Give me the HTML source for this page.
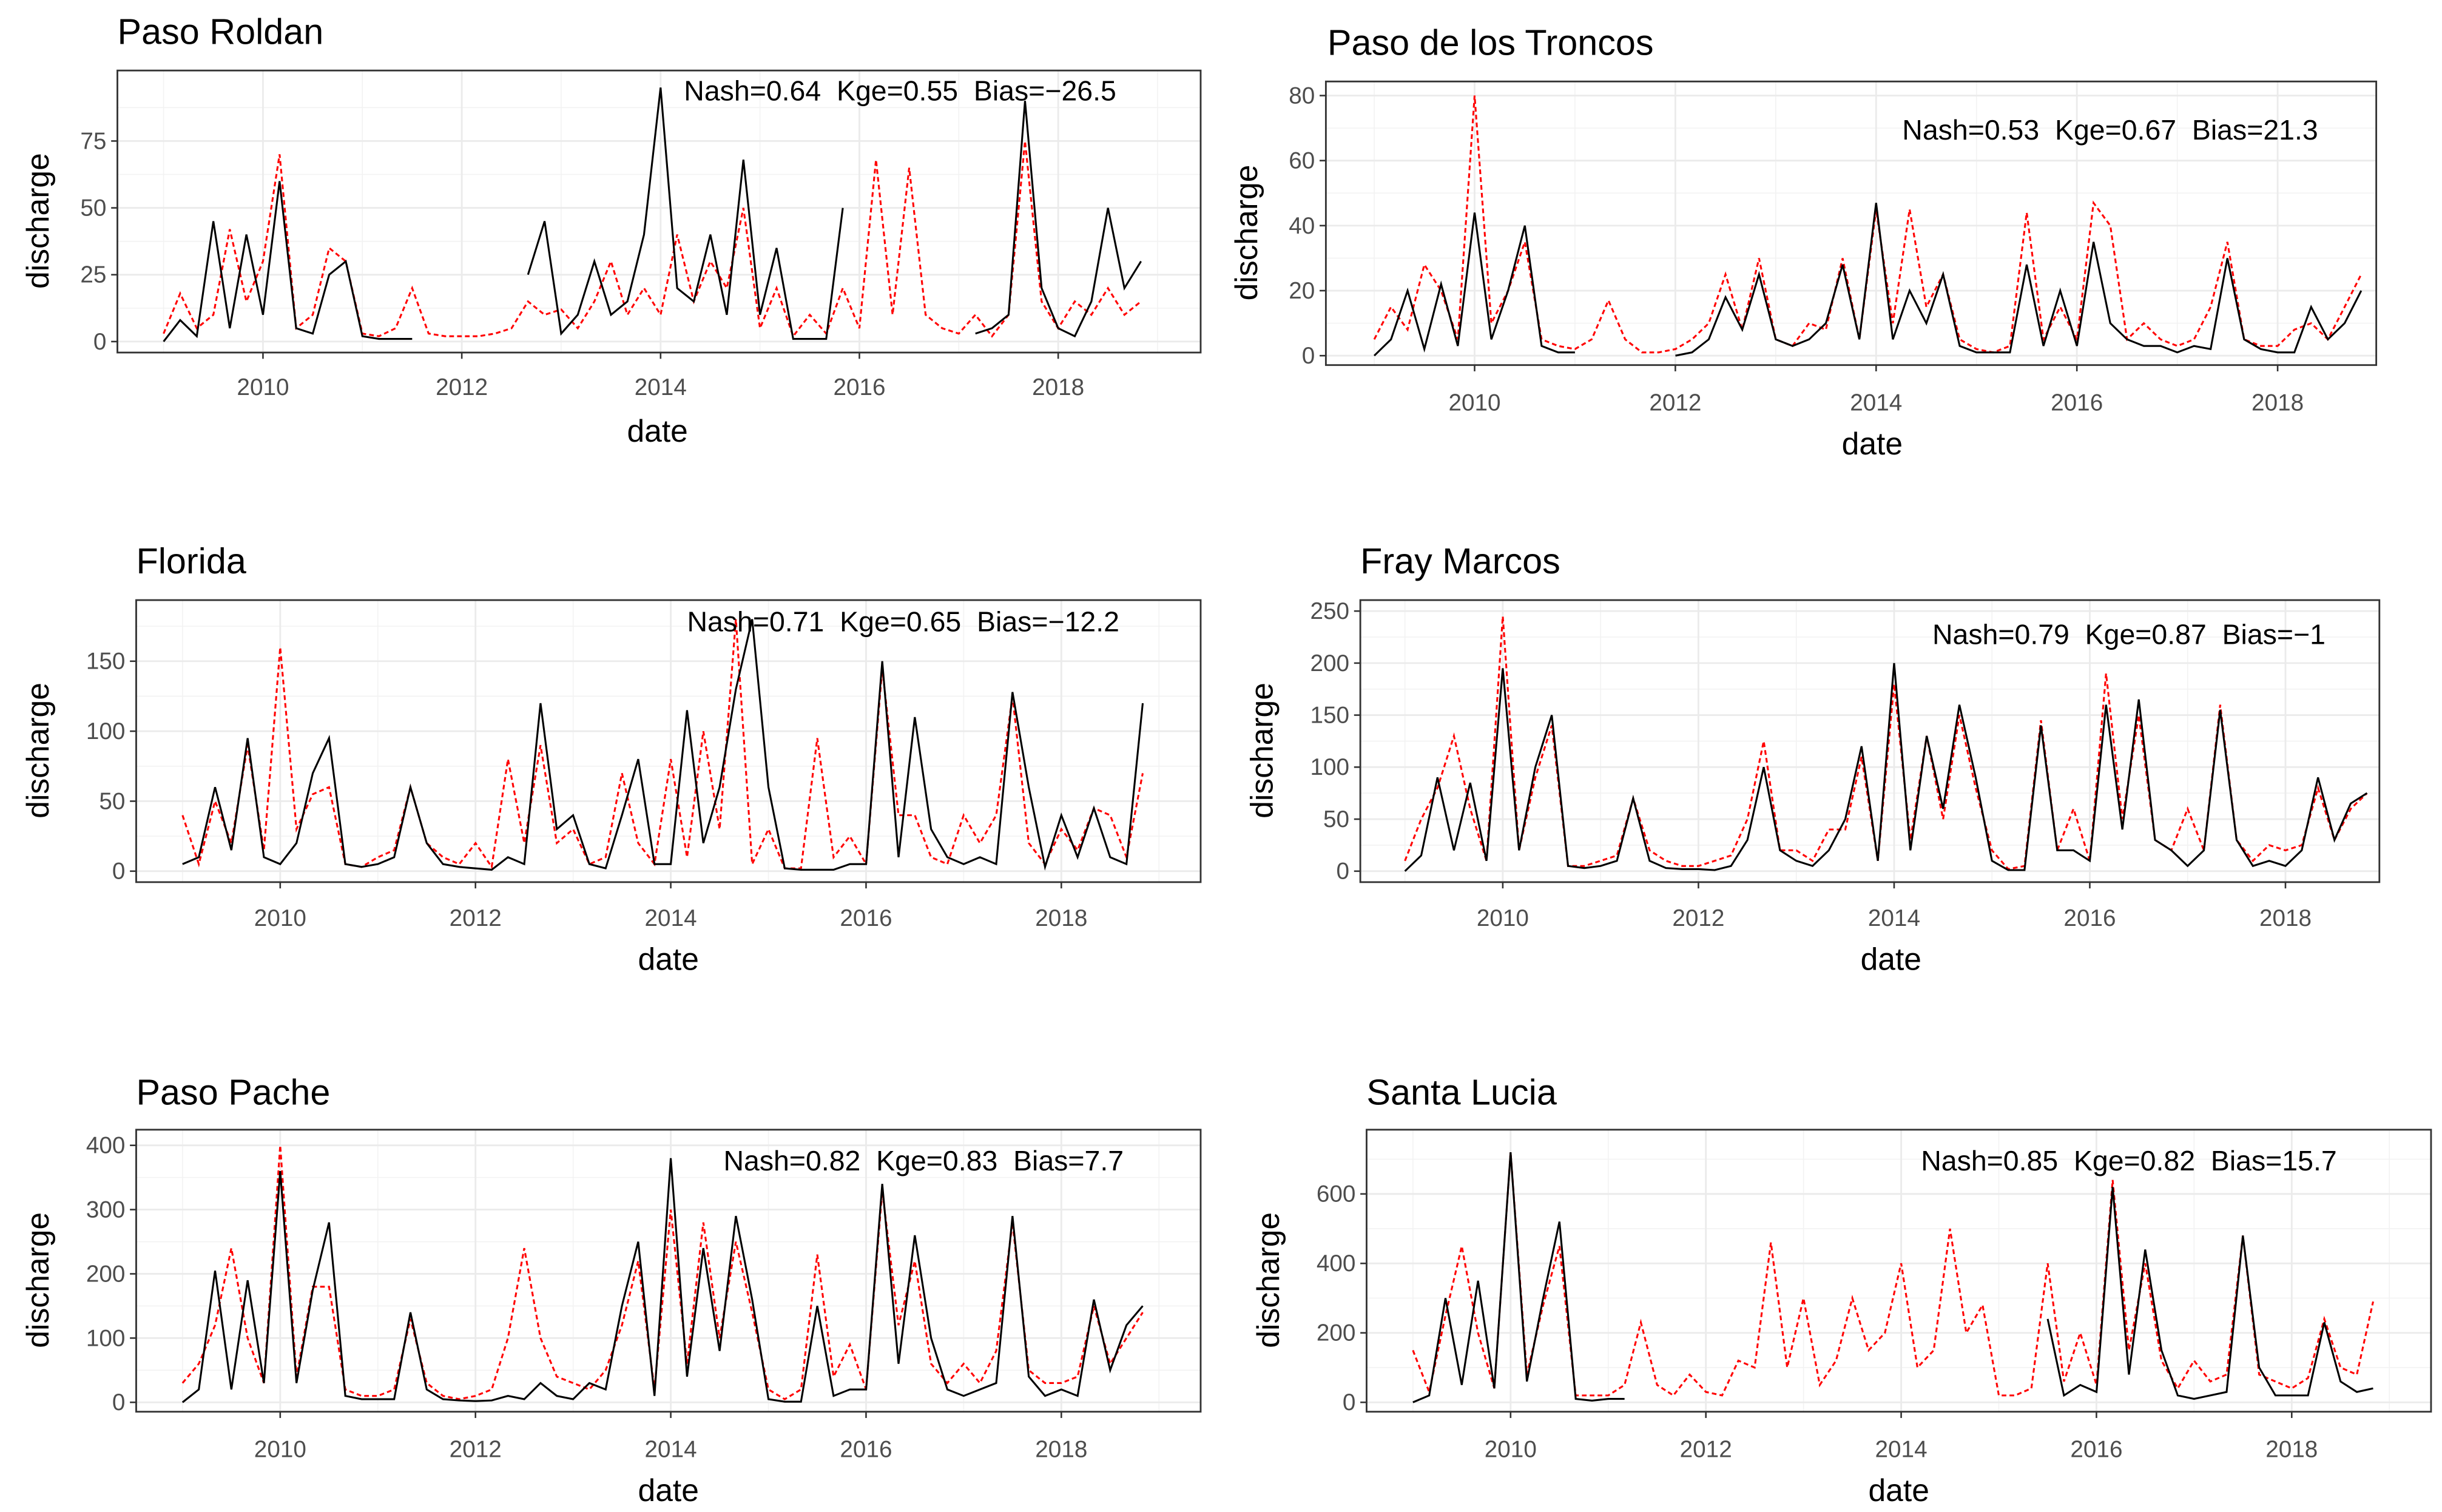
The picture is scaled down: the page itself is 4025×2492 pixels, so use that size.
<!DOCTYPE html>
<html><head><meta charset="utf-8"><style>
html,body{margin:0;padding:0;background:#fff}
svg{display:block}
text{font-family:"Liberation Sans",Arial,sans-serif}
.pre{white-space:pre}
</style></head><body>
<svg id="chart" width="4025" height="2492" viewBox="0 0 1560 965" preserveAspectRatio="none" xmlns="http://www.w3.org/2000/svg"></svg>
<script>
// Each series: every 2 months starting 2009.0 (6 values per year, 2009-2018)
const titles = ["Paso Roldan","Paso de los Troncos","Florida","Fray Marcos","Paso Pache","Santa Lucia"];
const stats = ["Nash=0.64  Kge=0.55  Bias=\u221226.5","Nash=0.53  Kge=0.67  Bias=21.3","Nash=0.71  Kge=0.65  Bias=\u221212.2","Nash=0.79  Kge=0.87  Bias=\u22121","Nash=0.82  Kge=0.83  Bias=7.7","Nash=0.85  Kge=0.82  Bias=15.7"];
const yTicks = [[0,25,50,75],[0,20,40,60,80],[0,50,100,150],[0,50,100,150,200,250],[0,100,200,300,400],[0,200,400,600]];
const xTicks = [2010,2012,2014,2016,2018];
const N = null;
const obs1 = [0,8,2,45,5,40, 10,60,5,3,25,30, 2,1,1,1,N,N, N,N,N,N,25,45, 3,10,30,10,15,40, 95,20,15,40,10,68, 10,35,1,1,1,50, N,N,N,N,N,N, N,3,5,10,90,20, 5,2,15,50,20,30];
const sim1 = [3,18,5,10,42,15, 30,70,5,10,35,30, 3,2,5,20,3,2, 2,2,3,5,15,10, 12,5,15,30,10,20, 10,40,15,30,20,50, 5,20,2,10,3,20, 5,68,10,65,10,5, 3,10,2,10,75,15, 5,15,10,20,10,15];
const obs2 = [0,5,20,2,22,3, 44,5,20,40,3,1, 1,N,N,N,N,N, 0,1,5,18,8,25, 5,3,5,10,28,5, 47,5,20,10,25,3, 1,1,1,28,3,20, 3,35,10,5,3,3, 1,3,2,30,5,2, 1,1,15,5,10,20];
const sim2 = [5,15,8,28,20,5, 80,10,20,35,5,3, 2,5,17,5,1,1, 2,5,10,25,8,30, 5,3,10,8,30,5, 45,10,45,15,25,5, 2,1,3,44,5,15, 5,47,40,5,10,5, 3,5,15,35,5,3, 3,8,10,5,15,25];
const obs3 = [5,10,60,15,95,10, 5,20,70,95,5,3, 5,10,60,20,5,3, 2,1,10,5,120,30, 40,5,2,40,80,5, 5,115,20,60,130,180, 60,2,1,1,1,5, 5,150,10,110,30,10, 5,10,5,128,60,3, 40,10,45,10,5,120];
const sim3 = [40,5,50,20,90,15, 160,30,55,60,5,3, 10,15,60,20,10,5, 20,3,80,20,90,20, 30,5,10,70,20,5, 80,10,100,30,180,5, 30,2,2,95,10,25, 5,145,40,40,10,5, 40,20,40,125,20,5, 30,15,45,40,10,70];
const obs4 = [0,15,90,20,85,10, 195,20,100,150,5,3, 5,10,70,10,3,2, 2,1,5,30,100,20, 10,5,20,50,120,10, 200,20,130,60,160,90, 10,1,1,140,20,20, 10,160,40,165,30,20, 5,20,155,30,5,10, 5,20,90,30,65,75];
const sim4 = [10,50,80,130,60,10, 245,20,90,140,5,5, 10,15,70,20,10,5, 5,10,15,50,125,20, 20,10,40,40,110,10, 180,30,130,50,150,80, 20,2,5,145,20,60, 10,190,50,150,30,20, 60,20,160,30,10,25, 20,25,80,30,60,75];
const obs5 = [0,20,205,20,190,30, 360,30,175,280,10,5, 5,5,140,20,5,3, 2,3,10,5,30,10, 5,30,20,150,250,10, 380,40,240,80,290,160, 5,1,1,150,10,20, 20,340,60,260,100,20, 10,20,30,290,40,10, 20,10,160,50,120,150];
const sim5 = [30,60,120,240,100,30, 400,40,180,180,20,10, 10,20,130,30,10,5, 10,20,100,240,100,40, 30,20,50,120,220,20, 300,60,280,100,250,140, 20,5,20,230,40,90, 20,330,120,220,60,30, 60,30,80,280,50,30, 30,40,150,60,100,140];
const obs6 = [0,20,300,50,350,40, 720,60,300,520,10,5, 10,10,N,N,N,N, N,N,N,N,N,N, N,N,N,N,N,N, N,N,N,N,N,N, N,N,N,240,20,50, 30,620,80,440,150,20, 10,20,30,480,100,20, 20,20,230,60,30,40];
const sim6 = [150,30,250,450,200,40, 720,80,280,450,20,20, 20,50,230,50,20,80, 30,20,120,100,460,100, 300,50,120,300,150,200, 400,100,150,500,200,280, 20,20,40,400,60,200, 50,640,150,400,120,40, 120,60,80,480,80,60, 40,70,240,100,80,290];
const observed = [obs1,obs2,obs3,obs4,obs5,obs6];
const simulated = [sim1,sim2,sim3,sim4,sim5,sim6];

// layout (not data)
const L = [
 {x0:75,x1:767,y0:45,y1:225,xa:168,xb:676,yz:218,tv:75,ty:90,tx:75,tyy:28,ax:575,ay:64,dx:420,dy:282,lx:252,yl:25},
 {x0:847,x1:1518,y0:52,y1:233,xa:942,xb:1455,yz:227,tv:80,ty:61,tx:848,tyy:35,ax:1348,ay:89,dx:1196,dy:290,lx:262,yl:797},
 {x0:87,x1:767,y0:383,y1:563,xa:179,xb:678,yz:556,tv:150,ty:422,tx:87,tyy:366,ax:577,ay:403,dx:427,dy:619,lx:591,yl:25},
 {x0:869,x1:1520,y0:383,y1:563,xa:960,xb:1460,yz:556,tv:250,ty:390,tx:869,tyy:366,ax:1360,ay:411,dx:1208,dy:619,lx:591,yl:807},
 {x0:87,x1:767,y0:721,y1:901,xa:179,xb:678,yz:895,tv:400,ty:731,tx:87,tyy:705,ax:590,ay:747,dx:427,dy:958,lx:930,yl:25},
 {x0:873,x1:1553,y0:721,y1:901,xa:965,xb:1464,yz:895,tv:600,ty:762,tx:873,tyy:705,ax:1360,ay:747,dx:1213,dy:958,lx:930,yl:811}
];
const NS="http://www.w3.org/2000/svg";
const svg=document.getElementById('chart');
function mk(tag,attrs,parent){const e=document.createElementNS(NS,tag);for(const k in attrs)e.setAttribute(k,attrs[k]);(parent||svg).appendChild(e);return e;}
L.forEach((p,k)=>{
  const g=mk('g',{});
  
  
  const xs=yr=>p.xa+(yr-2010)*(p.xb-p.xa)/8;
  const ys=v=>p.yz-v*(p.yz-p.ty)/p.tv;
  mk('rect',{x:p.x0,y:p.y0,width:p.x1-p.x0,height:p.y1-p.y0,fill:'#fff'},g);
  const yt=yTicks[k], step=yt[1]-yt[0];
  for(let v=yt[0]-step/2; v<=yt[yt.length-1]+step; v+=step){const y=ys(v); if(y>p.y0&&y<p.y1) mk('line',{x1:p.x0,x2:p.x1,y1:y,y2:y,stroke:'#f2f2f2','stroke-width':0.6},g);}
  for(let yr=2009;yr<=2019;yr+=2){const x=xs(yr); if(x>p.x0&&x<p.x1) mk('line',{x1:x,x2:x,y1:p.y0,y2:p.y1,stroke:'#f2f2f2','stroke-width':0.6},g);}
  yt.forEach(v=>{const y=ys(v);
    mk('line',{x1:p.x0,x2:p.x1,y1:y,y2:y,stroke:'#ebebeb','stroke-width':1.1},g);
    mk('line',{x1:p.x0-4,x2:p.x0,y1:y,y2:y,stroke:'#333','stroke-width':1},g);
    const t=mk('text',{x:p.x0-7,y:y+5,'text-anchor':'end','font-size':15,fill:'#4d4d4d'},g);t.textContent=v;
    
    
  });
  xTicks.forEach(yr=>{const x=xs(yr);
    mk('line',{x1:x,x2:x,y1:p.y0,y2:p.y1,stroke:'#ebebeb','stroke-width':1.1},g);
    mk('line',{x1:x,x2:x,y1:p.y1,y2:p.y1+4,stroke:'#333','stroke-width':1},g);
    const t=mk('text',{x:x,y:p.lx,'text-anchor':'middle','font-size':15,fill:'#4d4d4d'},g);t.textContent=yr;
    
    
  });
  function path(arr){let d='',pen=false;arr.forEach((v,i)=>{if(v===null){pen=false;return;}const x=xs(2009+i/6),y=ys(v);d+=(pen?'L':'M')+x.toFixed(1)+' '+y.toFixed(1);pen=true;});return d;}
  const sp=mk('path',{d:path(simulated[k]),fill:'none',stroke:'#ff0000','stroke-width':1.2,'stroke-dasharray':'3,2'},g);
  
  
  const op=mk('path',{d:path(observed[k]),fill:'none',stroke:'#000','stroke-width':1.2},g);
  
  
  mk('rect',{x:p.x0,y:p.y0,width:p.x1-p.x0,height:p.y1-p.y0,fill:'none',stroke:'#333','stroke-width':1.1},g);
  const an=mk('text',{x:p.ax,y:p.ay,'text-anchor':'middle','font-size':18,fill:'#000','class':'pre'},g);an.textContent=stats[k];
  
  
  const ti=mk('text',{x:p.tx,y:p.tyy,'font-size':23,fill:'#000'},g);ti.textContent=titles[k];
  
  
  const dx=mk('text',{x:p.dx,y:p.dy,'text-anchor':'middle','font-size':20,fill:'#000'},g);dx.textContent='date';
  
  
  const cy=(p.y0+p.y1)/2;
  const yl=mk('text',{x:p.yl,y:cy,'text-anchor':'middle','font-size':20,fill:'#000',transform:'rotate(-90 '+(p.yl+6)+' '+cy+')'},g);yl.textContent='discharge';
  
  
});
</script>
</body></html>
